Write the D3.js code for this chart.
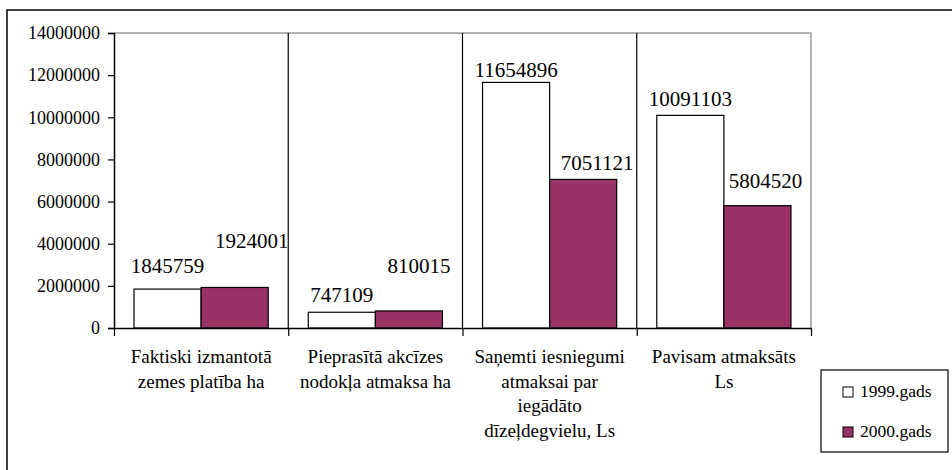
<!DOCTYPE html>
<html>
<head>
<meta charset="utf-8">
<script src="https://d3js.org/d3.v7.min.js"></script>
</head>
<body style="margin:0">
<script>
// chart values
const categories = [
  ["Faktiski izmantotā", "zemes platība ha"],
  ["Pieprasītā akcīzes", "nodokļa atmaksa ha"],
  ["Saņemti iesniegumi", "atmaksai par", "iegādāto", "dīzeļdegvielu, Ls"],
  ["Pavisam atmaksāts", "Ls"]
];
const seriesNames = ["1999.gads", "2000.gads"];
const values1999 = [1845759, 747109, 11654896, 10091103];
const values2000 = [1924001, 810015, 7051121, 5804520];
const yTicks = [0, 2000000, 4000000, 6000000, 8000000, 10000000, 12000000, 14000000];
const colors = ["#ffffff", "#993366"];

// the original data labels sit a bit off their bars, nudge them the same way [dx, dy]
const labelNudge = [
  [[0, -16], [17, -39]],
  [[0, -10], [10, -38]],
  [[0, -5], [14, -9]],
  [[0, -9], [8, -18]]
];

const serif = "'Liberation Serif'";
const plot = {left: 114, right: 811, top: 33, bottom: 328};

const svg = d3.select("body").append("svg")
  .attr("width", 952)
  .attr("height", 470)
  .attr("font-family", serif);

// outer chart frame (cut off at right and bottom like the picture)
svg.append("rect")
  .attr("x", 7).attr("y", 10)
  .attr("width", 1000).attr("height", 600)
  .attr("fill", "none").attr("stroke", "#000").attr("stroke-width", 1.5);

const x0 = d3.scaleBand()
  .domain(d3.range(categories.length))
  .range([plot.left, plot.right]);

const x1 = d3.scaleBand()
  .domain(d3.range(seriesNames.length))
  .range([x0.bandwidth() * 0.115, x0.bandwidth() * 0.885]);

const y = d3.scaleLinear()
  .domain([0, 14000000])
  .range([plot.bottom, plot.top]);

// gray plot frame top and right
svg.append("path")
  .attr("d", `M${plot.left},${plot.top}H${plot.right}V${plot.bottom}`)
  .attr("fill", "none").attr("stroke", "#9a9a9a").attr("stroke-width", 1.5);

// category separators
svg.selectAll(".sep")
  .data(d3.range(1, categories.length))
  .enter().append("line")
  .attr("x1", d => x0(d)).attr("x2", d => x0(d))
  .attr("y1", plot.top).attr("y2", plot.bottom)
  .attr("stroke", "#000").attr("stroke-width", 1.2);

// y axis
const yAxis = svg.append("g")
  .attr("transform", `translate(${plot.left},0)`)
  .call(d3.axisLeft(y).tickValues(yTicks).tickSize(6).tickPadding(8).tickFormat(d3.format("d")));
yAxis.attr("font-family", serif).attr("font-size", 18);
yAxis.select(".domain").attr("stroke", "#000").attr("stroke-width", 1.5);
yAxis.selectAll(".tick line").attr("stroke", "#000").attr("stroke-width", 1.2);
yAxis.selectAll(".tick text").attr("fill", "#000").attr("font-family", serif);

// bars
const groups = svg.selectAll(".cat")
  .data(categories.map((c, i) => ({i, vals: [values1999[i], values2000[i]]})))
  .enter().append("g")
  .attr("transform", d => `translate(${x0(d.i)},0)`);

groups.selectAll("rect")
  .data(d => d.vals.map((v, s) => ({v, s, i: d.i})))
  .enter().append("rect")
  .attr("x", d => x1(d.s))
  .attr("y", d => y(d.v))
  .attr("width", x1.bandwidth())
  .attr("height", d => y(0) - y(d.v))
  .attr("fill", d => colors[d.s])
  .attr("stroke", "#000").attr("stroke-width", 1.2);

groups.selectAll(".val")
  .data(d => d.vals.map((v, s) => ({v, s, i: d.i})))
  .enter().append("text")
  .attr("x", d => x1(d.s) + x1.bandwidth() / 2 + labelNudge[d.i][d.s][0])
  .attr("y", d => y(d.v) + labelNudge[d.i][d.s][1])
  .attr("text-anchor", "middle")
  .attr("font-family", serif)
  .attr("font-size", 21)
  .text(d => String(d.v));

// x axis line and ticks at category boundaries
const xAxis = svg.append("g")
  .attr("transform", `translate(0,${plot.bottom})`)
  .call(d3.axisBottom(d3.scaleLinear().domain([0, categories.length]).range([plot.left, plot.right]))
    .ticks(categories.length).tickSize(8).tickSizeOuter(0).tickFormat(""));
xAxis.select(".domain").attr("stroke", "#000").attr("stroke-width", 1.5);
xAxis.selectAll(".tick line").attr("stroke", "#000").attr("stroke-width", 1.2);

// category labels, one text per line
categories.forEach((lines, i) => {
  svg.selectAll(".catlab" + i)
    .data(lines)
    .enter().append("text")
    .attr("x", x0(i) + x0.bandwidth() / 2)
    .attr("y", (d, k) => 363 + k * 24.5)
    .attr("text-anchor", "middle")
    .attr("font-family", serif)
    .attr("font-size", 19)
    .text(d => d);
});

// legend
const legend = svg.append("g");
legend.append("rect")
  .attr("x", 821).attr("y", 370).attr("width", 127).attr("height", 82)
  .attr("fill", "#fff").attr("stroke", "#000").attr("stroke-width", 1.2);
const items = legend.selectAll(".item")
  .data(seriesNames)
  .enter().append("g")
  .attr("transform", (d, i) => `translate(843,${397 + i * 40})`);
items.append("rect")
  .attr("x", 0).attr("y", -10).attr("width", 10).attr("height", 10)
  .attr("fill", (d, i) => colors[i]).attr("stroke", "#000").attr("stroke-width", 1);
items.append("text")
  .attr("x", 17).attr("y", 0)
  .attr("font-family", serif)
  .attr("font-size", 17.5)
  .text(d => d);
</script>
</body>
</html>
